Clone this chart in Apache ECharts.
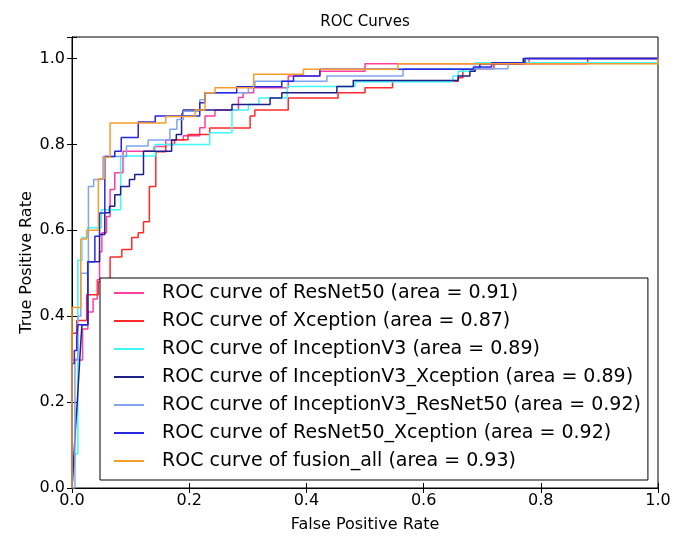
<!DOCTYPE html>
<html>
<head>
<meta charset="utf-8">
<script src="https://cdn.jsdelivr.net/npm/echarts@6/dist/echarts.min.js"></script>
<style>
html, body { margin: 0; padding: 0; background: #fff; }
#chart { width: 689px; height: 550px; }
</style>
</head>
<body>
<div id="chart"></div>
<script>
// models and their AUC
var models = ['ResNet50', 'Xception', 'InceptionV3', 'InceptionV3_Xception',
	'InceptionV3_ResNet50', 'ResNet50_Xception', 'fusion_all'];
var aucs = ['0.91', '0.87', '0.89', '0.89', '0.92', '0.92', '0.93'];
var colors = ['#ff3fa0', '#ff2a2a', '#3ff8f8', '#1f1f8c', '#80a4f0', '#2828e0', '#f59c2c'];

// ROC step points (fpr, tpr)
var resnetFpr = [0, 0, 0.018, 0.027, 0.036, 0.043, 0.047, 0.051, 0.059, 0.065, 0.073, 0.087, 0.14, 0.16, 0.19, 0.218, 0.227, 0.244, 0.284, 0.292, 0.31, 0.369, 0.423, 0.5, 0.78, 1];
var resnetTpr = [0, 0.298, 0.37, 0.41, 0.44, 0.485, 0.55, 0.594, 0.632, 0.695, 0.734, 0.784, 0.795, 0.81, 0.82, 0.839, 0.866, 0.88, 0.909, 0.92, 0.932, 0.959, 0.97, 0.988, 1, 1];

var xceptionFpr = [0, 0, 0.008, 0.025, 0.045, 0.065, 0.085, 0.102, 0.113, 0.122, 0.132, 0.143, 0.16, 0.175, 0.198, 0.235, 0.304, 0.312, 0.369, 0.454, 0.5, 0.547, 0.659, 0.667, 0.72, 0.88, 1];
var xceptionTpr = [0, 0.36, 0.39, 0.45, 0.48, 0.538, 0.555, 0.583, 0.594, 0.62, 0.702, 0.783, 0.8, 0.811, 0.823, 0.838, 0.866, 0.88, 0.908, 0.92, 0.932, 0.947, 0.955, 0.976, 0.988, 1, 1];

var inceptionFpr = [0, 0.002, 0.004, 0.006, 0.01, 0.017, 0.027, 0.05, 0.083, 0.142, 0.235, 0.273, 0.301, 0.319, 0.367, 0.483, 0.65, 0.659, 0.688, 1];
var inceptionTpr = [0, 0.03, 0.055, 0.08, 0.53, 0.583, 0.606, 0.648, 0.773, 0.8, 0.827, 0.88, 0.893, 0.908, 0.935, 0.946, 0.959, 0.97, 0.99, 0.99];

var incXcepFpr = [0, 0.003, 0.006, 0.009, 0.012, 0.015, 0.017, 0.027, 0.047, 0.056, 0.064, 0.073, 0.083, 0.098, 0.107, 0.122, 0.17, 0.178, 0.187, 0.19, 0.273, 0.338, 0.358, 0.452, 0.48, 0.659, 0.679, 0.688, 0.696, 0.77, 1];
var incXcepTpr = [0, 0.07, 0.14, 0.2, 0.27, 0.34, 0.38, 0.527, 0.59, 0.641, 0.656, 0.683, 0.702, 0.718, 0.73, 0.784, 0.81, 0.823, 0.866, 0.88, 0.893, 0.908, 0.92, 0.935, 0.949, 0.959, 0.97, 0.977, 0.988, 1, 1];

var incResFpr = [0, 0.005, 0.01, 0.015, 0.028, 0.037, 0.053, 0.093, 0.13, 0.167, 0.179, 0.19, 0.218, 0.227, 0.301, 0.312, 0.435, 0.565, 0.744, 0.773, 1];
var incResTpr = [0, 0.3, 0.4, 0.5, 0.702, 0.718, 0.772, 0.796, 0.81, 0.835, 0.858, 0.877, 0.904, 0.92, 0.932, 0.947, 0.959, 0.976, 0.99, 1, 1];

var resXcepFpr = [0, 0, 0.004, 0.008, 0.01, 0.027, 0.039, 0.047, 0.056, 0.073, 0.084, 0.113, 0.142, 0.218, 0.227, 0.281, 0.358, 0.378, 0.423, 0.685, 0.716, 0.773, 1];
var resXcepTpr = [0, 0.29, 0.32, 0.35, 0.38, 0.527, 0.586, 0.64, 0.772, 0.784, 0.816, 0.852, 0.866, 0.897, 0.92, 0.934, 0.947, 0.959, 0.975, 0.98, 0.99, 1, 1];

var fusionFpr = [0, 0, 0.015, 0.025, 0.045, 0.055, 0.065, 0.16, 0.21, 0.227, 0.244, 0.31, 0.395, 0.556, 1];
var fusionTpr = [0, 0.42, 0.58, 0.6, 0.72, 0.77, 0.85, 0.865, 0.88, 0.92, 0.932, 0.963, 0.975, 0.988, 1];

var fprList = [resnetFpr, xceptionFpr, inceptionFpr, incXcepFpr, incResFpr, resXcepFpr, fusionFpr];
var tprList = [resnetTpr, xceptionTpr, inceptionTpr, incXcepTpr, incResTpr, resXcepTpr, fusionTpr];

var font = 'DejaVu Sans';

function tickFmt(v) {
	if (Math.abs(v * 5 - Math.round(v * 5)) > 1e-6) return '';
	return v.toFixed(1);
}

var series = [];
for (var i = 0; i < models.length; i++) {
	var pts = [];
	for (var j = 0; j < fprList[i].length; j++) {
		pts.push([fprList[i][j], tprList[i][j]]);
	}
	series.push({
		name: 'ROC curve of ' + models[i] + ' (area = ' + aucs[i] + ')',
		type: 'line',
		step: 'end',
		data: pts,
		symbol: 'none',
		silent: true,
		lineStyle: { color: colors[i], width: 1.5 },
		itemStyle: { color: colors[i] }
	});
}

var chart = echarts.init(document.getElementById('chart'));
var option = {
	animation: false,
	backgroundColor: '#fff',
	grid: {
		left: 72, right: 31, top: 37, bottom: 62,
		show: true, borderColor: '#000', borderWidth: 1, backgroundColor: 'transparent'
	},
	graphic: [{
		type: 'text', x: 365, y: 22,
		style: { text: 'ROC Curves', font: '15px "DejaVu Sans"', fill: '#000', textAlign: 'center', textVerticalAlign: 'middle' }
	}],
	legend: {
		orient: 'vertical',
		left: 100, top: 278,
		backgroundColor: '#fff',
		borderColor: '#000',
		borderWidth: 1,
		borderRadius: 0,
		padding: [4, 7, 8, 14],
		itemGap: 6,
		itemWidth: 30,
		itemHeight: 2,
		icon: 'rect',
		selectedMode: false,
		textStyle: { fontFamily: font, fontSize: 19, color: '#000', lineHeight: 22, padding: [0, 0, 0, 13] },
		data: series.map(function(s) { return s.name; })
	},
	xAxis: [{
		type: 'value', min: 0, max: 1, interval: 0.2,
		name: 'False Positive Rate', nameLocation: 'middle', nameGap: 29,
		nameMoveOverlap: false,
		nameTextStyle: { fontFamily: font, fontSize: 16, color: '#000' },
		axisLine: { lineStyle: { color: '#000' } },
		axisTick: { inside: true, length: 5, lineStyle: { color: '#000' } },
		axisLabel: { fontFamily: font, fontSize: 16, color: '#000', margin: 5, formatter: tickFmt },
		splitLine: { show: false }
	}, {
		type: 'value', min: 0, max: 1, interval: 0.2, position: 'top',
		axisLine: { lineStyle: { color: '#000' } },
		axisTick: { inside: true, length: 5, lineStyle: { color: '#000' } },
		axisLabel: { show: false },
		splitLine: { show: false }
	}],
	yAxis: [{
		type: 'value', min: 0, max: 1.05, interval: 0.2,
		name: 'True Positive Rate', nameLocation: 'middle', nameGap: 37,
		nameMoveOverlap: false,
		nameTextStyle: { fontFamily: font, fontSize: 16, color: '#000' },
		axisLine: { lineStyle: { color: '#000' } },
		axisTick: { inside: true, length: 5, lineStyle: { color: '#000' } },
		axisLabel: { fontFamily: font, fontSize: 16, color: '#000', margin: 7, formatter: tickFmt },
		splitLine: { show: false }
	}, {
		type: 'value', min: 0, max: 1.05, interval: 0.2, position: 'right',
		axisLine: { lineStyle: { color: '#000' } },
		axisTick: { inside: true, length: 5, lineStyle: { color: '#000' } },
		axisLabel: { show: false },
		splitLine: { show: false }
	}],
	series: series
};
chart.setOption(option);
</script>
</body>
</html>
